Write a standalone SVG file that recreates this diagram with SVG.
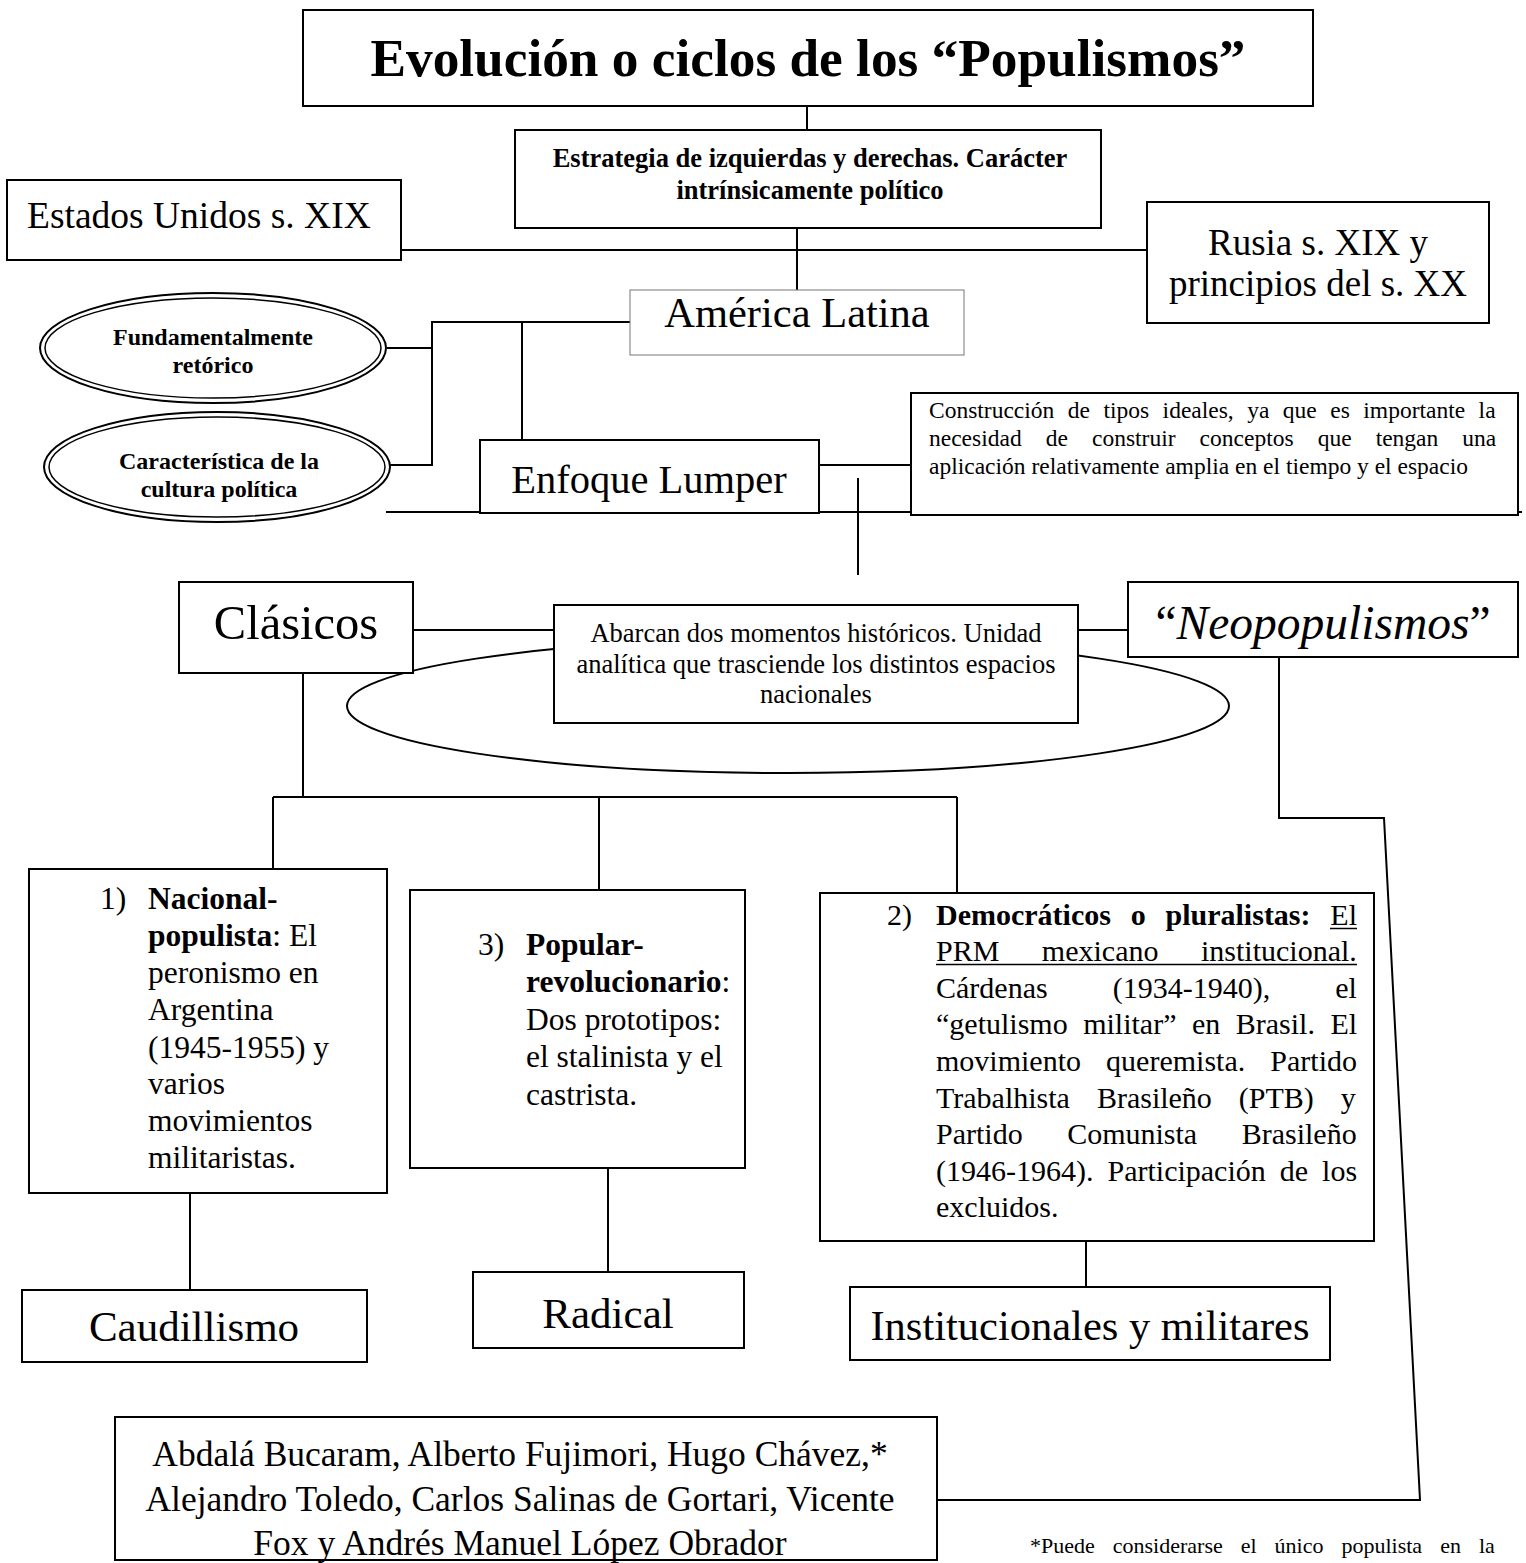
<svg xmlns="http://www.w3.org/2000/svg" width="1526" height="1563" viewBox="0 0 1526 1563">
<style>
text{font-family:"Liberation Serif","Times New Roman",serif;fill:#000}
.box{fill:#fff;stroke:#000;stroke-width:2}
.thin{fill:#fff;stroke:#777;stroke-width:1}
.ln{fill:none;stroke:#000;stroke-width:2}
.ul{stroke:#000;stroke-width:1.5}
.c{text-anchor:middle}
.b{font-weight:bold}
</style>
<rect width="1526" height="1563" fill="#fff"/>
<g id="connectors">
<line class="ln" x1="807" y1="106" x2="807" y2="130"/>
<line class="ln" x1="797" y1="228" x2="797" y2="290"/>
<line class="ln" x1="401" y1="250" x2="1147" y2="250"/>
<polyline class="ln" points="630,322 432,322 432,465 390,465"/>
<line class="ln" x1="387" y1="348" x2="432" y2="348"/>
<line class="ln" x1="522" y1="322" x2="522" y2="440"/>
<line class="ln" x1="819" y1="465" x2="911" y2="465"/>
<line class="ln" x1="386" y1="512" x2="1522" y2="512" stroke-width="1.5"/>
<line class="ln" x1="858" y1="478" x2="858" y2="575"/>
<ellipse class="ln" cx="788" cy="706" rx="441" ry="67"/>
<line class="ln" x1="413" y1="630" x2="554" y2="630"/>
<line class="ln" x1="1078" y1="630" x2="1128" y2="630"/>
<line class="ln" x1="303" y1="673" x2="303" y2="797"/>
<line class="ln" x1="273" y1="797" x2="957" y2="797"/>
<line class="ln" x1="273" y1="797" x2="273" y2="869"/>
<line class="ln" x1="599" y1="797" x2="599" y2="890"/>
<line class="ln" x1="957" y1="797" x2="957" y2="893"/>
<line class="ln" x1="190" y1="1193" x2="190" y2="1290"/>
<line class="ln" x1="608" y1="1154" x2="608" y2="1272"/>
<line class="ln" x1="1086" y1="1241" x2="1086" y2="1287"/>
<polyline class="ln" points="1279,657 1279,818 1384,818 1420,1500 937,1500"/>
</g>
<g id="title">
<rect class="box" x="303" y="10" width="1010" height="96"/>
<text class="c b" x="808" y="76" font-size="53.3">Evolución o ciclos de los “Populismos”</text>
</g>
<g id="estrategia">
<rect class="box" x="515" y="130" width="586" height="98"/>
<text class="c b" x="810" y="167" font-size="26.5">Estrategia de izquierdas y derechas. Carácter</text>
<text class="c b" x="810" y="199" font-size="26.5">intrínsicamente político</text>
</g>
<g id="eeuu">
<rect class="box" x="7" y="180" width="394" height="80"/>
<text x="27" y="228" font-size="37.5">Estados Unidos s. XIX</text>
</g>
<g id="rusia">
<rect class="box" x="1147" y="202" width="342" height="121"/>
<text class="c" x="1318" y="255" font-size="37">Rusia s. XIX y</text>
<text class="c" x="1318" y="296" font-size="37">principios del s. XX</text>
</g>
<g id="america">
<rect class="thin" x="630" y="290" width="334" height="65"/>
<text class="c" x="797" y="327" font-size="42.5">América Latina</text>
</g>
<g id="fundamentalmente">
<ellipse cx="213" cy="348" rx="173" ry="55" fill="#fff" stroke="#000" stroke-width="2"/>
<ellipse cx="213" cy="348" rx="168" ry="50" fill="none" stroke="#000" stroke-width="1.5"/>
<text class="c b" x="213" y="345" font-size="24">Fundamentalmente</text>
<text class="c b" x="213" y="373" font-size="24">retórico</text>
</g>
<g id="caracteristica">
<ellipse cx="217" cy="467" rx="173" ry="55" fill="#fff" stroke="#000" stroke-width="2"/>
<ellipse cx="217" cy="467" rx="168" ry="50" fill="none" stroke="#000" stroke-width="1.5"/>
<text class="c b" x="219" y="469" font-size="24">Característica de la</text>
<text class="c b" x="219" y="497" font-size="24">cultura política</text>
</g>
<g id="enfoque">
<rect class="box" x="480" y="440" width="339" height="73"/>
<text class="c" x="649" y="493" font-size="40.5">Enfoque Lumper</text>
</g>
<g id="construccion">
<rect class="box" x="911" y="393" width="607" height="122"/>
<g font-size="23.5">
<text x="929" y="418" word-spacing="7.6">Construcción de tipos ideales, ya que es importante la</text>
<text x="929" y="446" word-spacing="18.2">necesidad de construir conceptos que tengan una</text>
<text x="929" y="474">aplicación relativamente amplia en el tiempo y el espacio</text>
</g>
</g>
<g id="clasicos">
<rect class="box" x="179" y="582" width="234" height="91"/>
<text class="c" x="296" y="639" font-size="48.5">Clásicos</text>
</g>
<g id="abarcan">
<rect class="box" x="554" y="605" width="524" height="118"/>
<g font-size="26.5">
<text class="c" x="816" y="642">Abarcan dos momentos históricos. Unidad</text>
<text class="c" x="816" y="673">analítica que trasciende los distintos espacios</text>
<text class="c" x="816" y="703">nacionales</text>
</g>
</g>
<g id="neopopulismos">
<rect class="box" x="1128" y="582" width="390" height="75"/>
<text class="c" x="1323" y="639" font-size="47.5">“<tspan font-style="italic">Neopopulismos</tspan>”</text>
</g>
<g id="nacional">
<rect class="box" x="29" y="869" width="358" height="324"/>
<g font-size="31.5">
<text x="100" y="909">1)</text>
<text x="148" y="909" class="b">Nacional-</text>
<text x="148" y="946"><tspan class="b">populista</tspan>: El</text>
<text x="148" y="983">peronismo en</text>
<text x="148" y="1020">Argentina</text>
<text x="148" y="1058">(1945-1955) y</text>
<text x="148" y="1094">varios</text>
<text x="148" y="1131">movimientos</text>
<text x="148" y="1168">militaristas.</text>
</g>
</g>
<g id="popular">
<rect class="box" x="410" y="890" width="335" height="278"/>
<g font-size="31.5">
<text x="478" y="955">3)</text>
<text x="526" y="955" class="b">Popular-</text>
<text x="526" y="992"><tspan class="b">revolucionario</tspan>:</text>
<text x="526" y="1030">Dos prototipos:</text>
<text x="526" y="1067">el stalinista y el</text>
<text x="526" y="1105">castrista.</text>
</g>
</g>
<g id="democraticos">
<rect class="box" x="820" y="893" width="554" height="348"/>
<g font-size="30">
<text x="887" y="925">2)</text>
<text x="936" y="925" word-spacing="12.3"><tspan class="b">Democráticos o pluralistas:</tspan> El</text>
<text x="936" y="961" word-spacing="35">PRM mexicano institucional.</text>
<text x="936" y="998" word-spacing="57.6">Cárdenas (1934-1940), el</text>
<text x="936" y="1034" word-spacing="8">“getulismo militar” en Brasil. El</text>
<text x="936" y="1071" word-spacing="17.6">movimiento queremista. Partido</text>
<text x="936" y="1108" word-spacing="19.5">Trabalhista Brasileño (PTB) y</text>
<text x="936" y="1144" word-spacing="37">Partido Comunista Brasileño</text>
<text x="936" y="1181" word-spacing="6.5">(1946-1964). Participación de los</text>
<text x="936" y="1217">excluidos.</text>
</g>
<line class="ul" x1="1330" y1="928.5" x2="1357" y2="928.5"/>
<line class="ul" x1="936" y1="964.5" x2="1357" y2="964.5"/>
</g>
<g id="caudillismo">
<rect class="box" x="22" y="1290" width="345" height="72"/>
<text class="c" x="194" y="1341" font-size="43">Caudillismo</text>
</g>
<g id="radical">
<rect class="box" x="473" y="1272" width="271" height="76"/>
<text class="c" x="608" y="1328" font-size="43">Radical</text>
</g>
<g id="institucionales">
<rect class="box" x="850" y="1287" width="480" height="73"/>
<text class="c" x="1090" y="1340" font-size="42.5">Institucionales y militares</text>
</g>
<g id="lideres">
<rect class="box" x="115" y="1417" width="822" height="143"/>
<g font-size="35.5">
<text class="c" x="520" y="1466">Abdalá Bucaram, Alberto Fujimori, Hugo Chávez,*</text>
<text class="c" x="520" y="1511">Alejandro Toledo, Carlos Salinas de Gortari, Vicente</text>
<text class="c" x="520" y="1555">Fox y Andrés Manuel López Obrador</text>
</g>
</g>
<g id="nota">
<text x="1030" y="1553" font-size="22" word-spacing="12.5">*Puede considerarse el único populista en la</text>
</g>
</svg>
